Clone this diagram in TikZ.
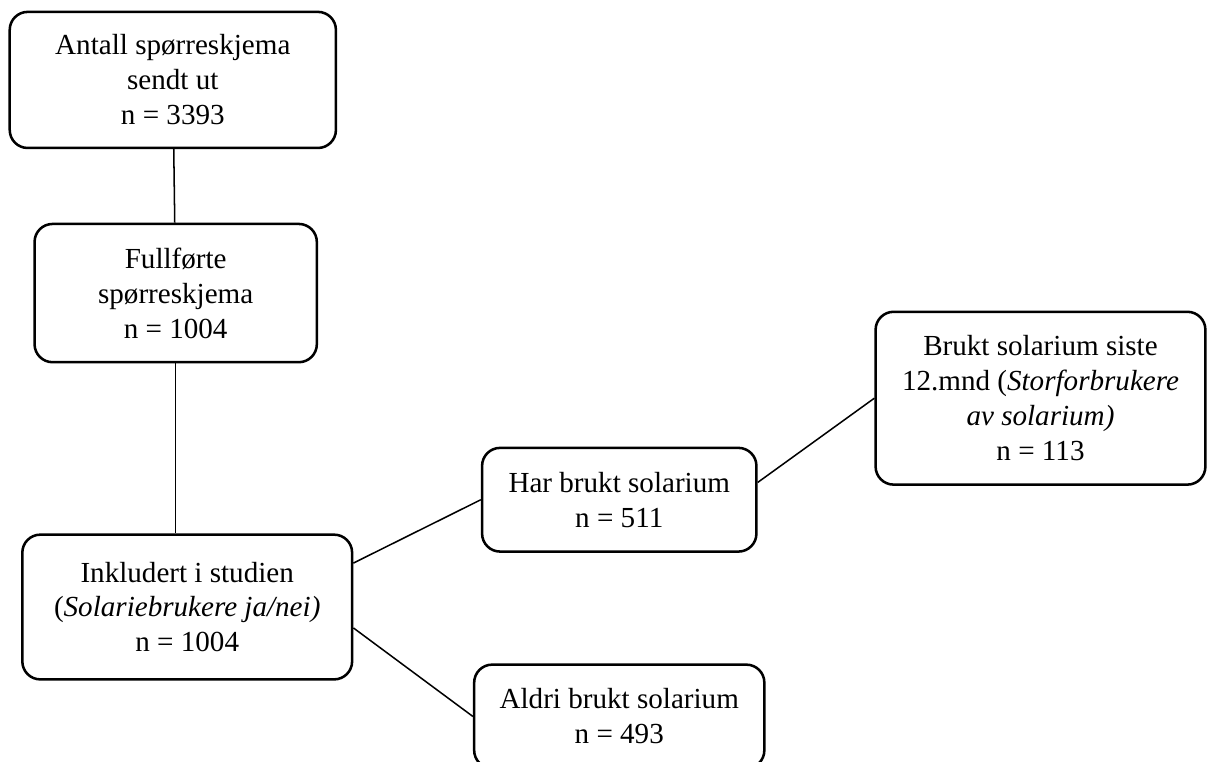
\documentclass[tikz,border=0pt]{standalone}
\usepackage{fontspec}
\setmainfont{Liberation Serif}
\begin{document}
\begin{tikzpicture}[
    flowbox/.style={draw, line width=1pt, rounded corners=0.25cm, align=center, inner sep=2pt,
        font=\fontsize{11.5}{13.8}\selectfont},
    link/.style={line width=0.6pt}
]
        \useasboundingbox (0, 0) rectangle (16.79, 10.58);

        \node[flowbox, minimum width=4.53cm, minimum height=1.89cm] (sendt) at (2.40, 9.47) {Antall spørreskjema\\ sendt ut\\ n = 3393};
        \node[flowbox, minimum width=3.92cm, minimum height=1.92cm] (fullf) at (2.44, 6.51) {Fullførte\\ spørreskjema\\ n = 1004};
        \node[flowbox, minimum width=4.58cm, minimum height=2.01cm] (inkl) at (2.60, 2.15) {Inkludert i studien\\ (\textit{Solariebrukere ja/nei)}\\ n = 1004};
        \node[flowbox, minimum width=3.81cm, minimum height=1.44cm] (har) at (8.60, 3.64) {Har brukt solarium\\ n = 511};
        \node[flowbox, minimum width=4.03cm, minimum height=1.44cm] (aldri) at (8.60, 0.63) {Aldri brukt solarium\\ n = 493};
        \node[flowbox, minimum width=4.58cm, minimum height=2.40cm] (stor) at (14.45, 5.05) {Brukt solarium siste\\ 12.mnd (\textit{Storforbrukere}\\ \textit{av solarium)}\\ n = 113};

        \draw[link] (sendt) -- (fullf);
        \draw[link] (fullf.south) -- (fullf.south |- inkl.north);
        \draw[link] ([yshift=0.61cm]inkl.east) -- (har.west);
        \draw[link] ([yshift=-0.29cm]inkl.east) -- (aldri.west);
        \draw[link] ([yshift=0.24cm]har.east) -- (stor.west);

\end{tikzpicture}
\end{document}
